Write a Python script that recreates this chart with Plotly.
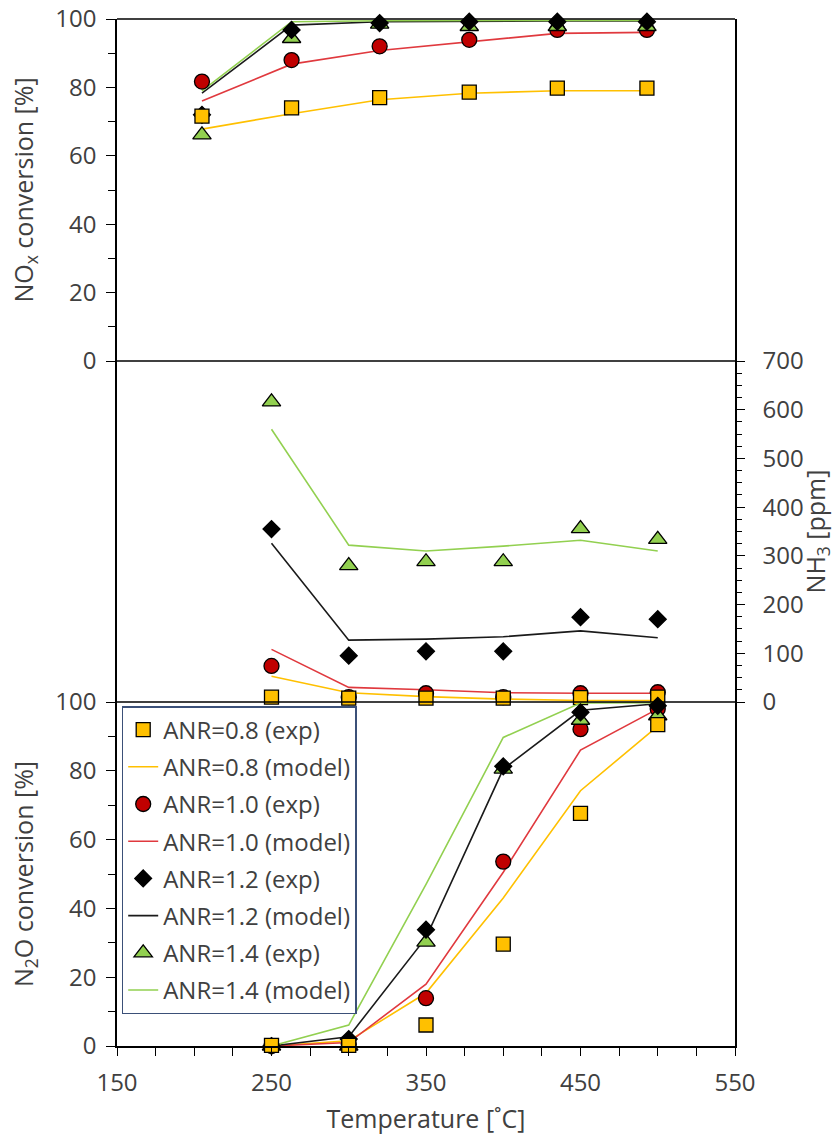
import plotly.graph_objects as go

# ---------------- data ----------------
T_top = [205, 263, 320, 378, 435, 493]
T = [250, 300, 350, 400, 450, 500]

series_names = ["ANR=0.8", "ANR=1.0", "ANR=1.2", "ANR=1.4"]

# NOx conversion [%] (top panel)
nox_exp_08 = [71.6, 74.0, 77.0, 78.6, 79.8, 79.8]
nox_mod_08 = [67.8, 72.3, 76.4, 78.3, 79.0, 79.0]
nox_exp_10 = [81.7, 88.0, 92.0, 93.9, 96.8, 96.8]
nox_mod_10 = [76.0, 86.8, 90.8, 93.4, 95.8, 96.1]
nox_exp_12 = [72.0, 96.8, 98.8, 99.2, 99.2, 99.2]
nox_mod_12 = [78.3, 98.2, 99.2, 99.4, 99.4, 99.4]
nox_exp_14 = [66.1, 94.3, 98.5, 97.8, 97.8, 97.8]
nox_mod_14 = [79.0, 99.2, 99.5, 99.6, 99.6, 99.6]

# NH3 slip [ppm] (middle panel)
nh3_exp_08 = [10, 8, 8, 8, 9, 10]
nh3_mod_08 = [53, 19, 11, 6, 3, 3]
nh3_exp_10 = [74, 10, 18, 10, 18, 20]
nh3_mod_10 = [108, 30, 25, 19, 18, 18]
nh3_exp_12 = [355, 95, 104, 104, 174, 170]
nh3_mod_12 = [326, 127, 129, 134, 146, 132]
nh3_exp_14 = [616, 280, 288, 288, 356, 334]
nh3_mod_14 = [560, 322, 310, 320, 332, 310]

# N2O conversion [%] (bottom panel)
n2o_exp_08 = [0.2, 0.2, 6.1, 29.6, 67.6, 93.4]
n2o_mod_08 = [0.0, 1.5, 15.4, 43.0, 74.2, 93.0]
n2o_exp_10 = [0.0, 0.5, 13.9, 53.6, 92.1, 98.0]
n2o_mod_10 = [0.0, 1.0, 18.0, 50.5, 86.0, 98.0]
n2o_exp_12 = [0.0, 2.0, 33.8, 81.3, 97.0, 98.9]
n2o_mod_12 = [0.0, 2.7, 31.5, 80.5, 97.6, 99.5]
n2o_exp_14 = [0.0, 0.0, 30.2, 80.5, 94.7, 96.0]
n2o_mod_14 = [0.0, 6.1, 47.0, 89.7, 99.7, 99.8]

x_tickvals = [150, 175, 200, 225, 250, 275, 300, 325, 350, 375, 400, 425, 450, 475, 500, 525, 550]
x_ticktext = ["150", "", "", "", "250", "", "", "", "350", "", "", "", "450", "", "", "", "550"]

# ---------------- styles ----------------
FONT = "Open Sans"
TXT = "#404040"
TICK_SIZE = 24
TITLE_SIZE = 25
LEGEND_SIZE = 24
marker_style = {
    "ANR=0.8": dict(symbol="square", size=14, color="#FFC000"),
    "ANR=1.0": dict(symbol="circle", size=15, color="#C00000"),
    "ANR=1.2": dict(symbol="diamond", size=13, color="#000000"),
    "ANR=1.4": dict(symbol="triangle-up", size=16, color="#92D050"),
}
line_color = {
    "ANR=0.8": "#FFC000",
    "ANR=1.0": "#E0393E",
    "ANR=1.2": "#1A1A1A",
    "ANR=1.4": "#92D050",
}

panels = [
    ("y", T_top, {"ANR=0.8": (nox_exp_08, nox_mod_08), "ANR=1.0": (nox_exp_10, nox_mod_10),
                  "ANR=1.2": (nox_exp_12, nox_mod_12), "ANR=1.4": (nox_exp_14, nox_mod_14)}),
    ("y2", T, {"ANR=0.8": (nh3_exp_08, nh3_mod_08), "ANR=1.0": (nh3_exp_10, nh3_mod_10),
               "ANR=1.2": (nh3_exp_12, nh3_mod_12), "ANR=1.4": (nh3_exp_14, nh3_mod_14)}),
    ("y3", T, {"ANR=0.8": (n2o_exp_08, n2o_mod_08), "ANR=1.0": (n2o_exp_10, n2o_mod_10),
               "ANR=1.2": (n2o_exp_12, n2o_mod_12), "ANR=1.4": (n2o_exp_14, n2o_mod_14)}),
]

fig = go.Figure()
rank = {n: i for i, n in enumerate(series_names)}

# model lines first
for yax, xs, d in panels:
    for name in series_names:
        r = rank[name] * 2 + 2
        fig.add_trace(go.Scatter(
            x=xs, y=d[name][1], xaxis="x", yaxis=yax, mode="lines",
            line=dict(color=line_color[name], width=1.6),
            name=f"{name} (model)", showlegend=(yax == "y3"),
            legendgroup=f"g{r}", legendrank=r, cliponaxis=False, hoverinfo="skip"))

# markers: drawing order circles, triangles, diamonds, squares
draw_order = ["ANR=1.0", "ANR=1.4", "ANR=1.2", "ANR=0.8"]
for yax, xs, d in panels:
    for name in draw_order:
        ms = marker_style[name]
        r = rank[name] * 2 + 1
        fig.add_trace(go.Scatter(
            x=xs, y=d[name][0], xaxis="x", yaxis=yax, mode="markers",
            marker=dict(symbol=ms["symbol"], size=ms["size"], color=ms["color"],
                        line=dict(color="#000000", width=1.3)),
            name=f"{name} (exp)", showlegend=(yax == "y3"),
            legendgroup=f"g{r}", legendrank=r, cliponaxis=False, hoverinfo="skip"))

PH = 1027.0
d1 = 344 / PH
d2 = 685 / PH

axis_common = dict(showgrid=False, zeroline=False, showline=True, linecolor="#000000",
                   linewidth=1.5, ticks="outside", tickcolor="#000000", tickwidth=1.3,
                   automargin=False,
                   tickfont=dict(family=FONT, size=TICK_SIZE, color=TXT))

fig.update_layout(
    width=835, height=1138,
    margin=dict(l=117, r=100, t=19, b=92, autoexpand=False),
    paper_bgcolor="white", plot_bgcolor="white",
    font=dict(family=FONT, size=TICK_SIZE, color=TXT),
    xaxis=dict(anchor="y3", range=[150, 550], tickmode="array", tickvals=x_tickvals,
               ticktext=x_ticktext, ticklen=8, ticklabelstandoff=6,
               title=dict(text="Temperature [˚C]", font=dict(family=FONT, size=TITLE_SIZE, color=TXT), standoff=14),
               **axis_common),
    yaxis=dict(domain=[d2, 1], anchor="x", range=[0, 100], tickmode="array",
               tickvals=[0, 20, 40, 60, 80, 100], ticklen=9, mirror=True, ticklabelstandoff=5,
               minor=dict(tickvals=[10, 30, 50, 70, 90], ticks="outside", ticklen=7, tickcolor="#000000"),
               title=dict(text="NO<sub>x</sub> conversion [%]", font=dict(family=FONT, size=TITLE_SIZE, color=TXT), standoff=15),
               **axis_common),
    yaxis2=dict(domain=[d1, d2], anchor="x", side="right", range=[0, 700], tickmode="array",
                tickvals=[0, 100, 200, 300, 400, 500, 600, 700], ticklen=8, mirror=True,
                ticklabelstandoff=13,
                minor=dict(dtick=25, tick0=0, ticks="outside", ticklen=5, tickcolor="#000000"),
                title=dict(text="NH<sub>3</sub> [ppm]", font=dict(family=FONT, size=TITLE_SIZE, color=TXT), standoff=25),
                **axis_common),
    yaxis3=dict(domain=[0, d1], anchor="x", range=[0, 100], tickmode="array",
                tickvals=[0, 20, 40, 60, 80, 100], ticklen=9, mirror=True, ticklabelstandoff=5,
                minor=dict(tickvals=[10, 30, 50, 70, 90], ticks="outside", ticklen=7, tickcolor="#000000"),
                title=dict(text="N<sub>2</sub>O conversion [%]", font=dict(family=FONT, size=TITLE_SIZE, color=TXT), standoff=15),
                **axis_common),
    legend=dict(x=0.0076, y=(1046 - 706) / PH, xanchor="left", yanchor="top",
                bgcolor="white", bordercolor="#3B5078", borderwidth=1.5,
                font=dict(family=FONT, size=LEGEND_SIZE, color=TXT), traceorder="grouped",
                tracegroupgap=3, itemwidth=30),
    shapes=[
        dict(type="line", xref="paper", yref="paper", x0=0, x1=1, y0=1, y1=1,
             line=dict(color="#000000", width=1.5)),
        dict(type="line", xref="paper", yref="paper", x0=0, x1=1, y0=d2, y1=d2,
             line=dict(color="#000000", width=1.5)),
        dict(type="line", xref="paper", yref="paper", x0=0, x1=1, y0=d1, y1=d1,
             line=dict(color="#000000", width=1.5)),
    ],
)

fig.write_html("out.html")
